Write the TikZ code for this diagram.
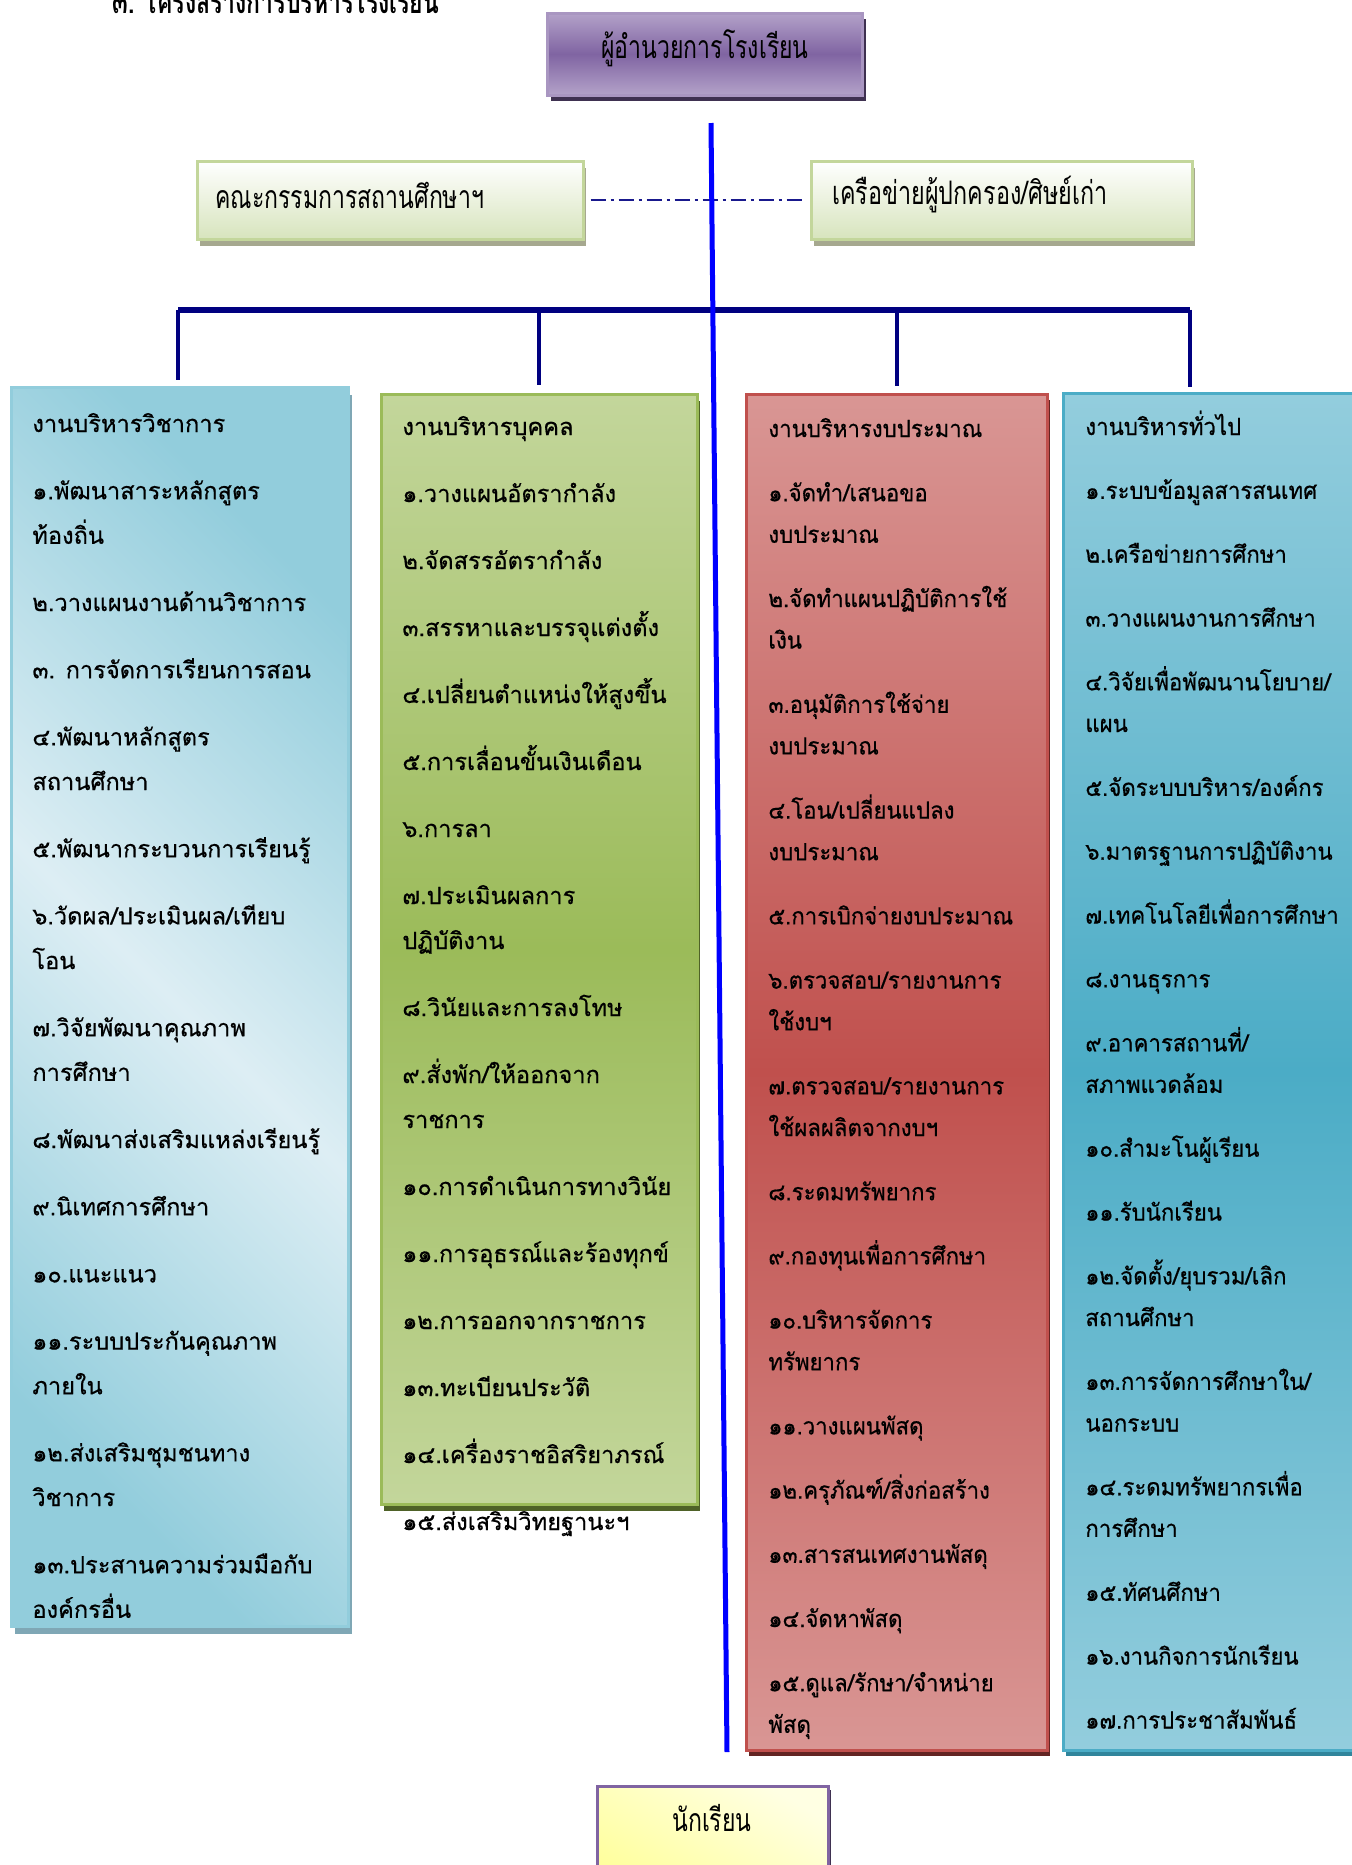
\documentclass[tikz,border=0pt]{standalone}
\usepackage{fontspec}
\usetikzlibrary{shadows}
\newfontfamily\thaifont[Script=Thai,FakeBold=0.6]{Loma}
\newfontfamily\thaitight[Script=Thai,FakeStretch=0.94,FakeBold=0.6]{Loma}
\newfontfamily\thainarrow[Script=Thai,FakeStretch=0.72]{Loma}

\definecolor{dirlight}{HTML}{B3A2C9}
\definecolor{dirmid}{HTML}{8064A2}
\definecolor{dirshadow}{HTML}{3F3151}
\definecolor{comborder}{HTML}{C3D69B}
\definecolor{combottom}{HTML}{D7E4BD}
\definecolor{comshadow}{HTML}{A6A88F}
\definecolor{acadlight}{HTML}{DDEEF4}
\definecolor{acaddark}{HTML}{92CDDC}
\definecolor{acadshadow}{HTML}{7FA7B5}
\definecolor{perslight}{HTML}{C3D69B}
\definecolor{persdark}{HTML}{9BBB59}
\definecolor{persshadow}{HTML}{4F6228}
\definecolor{budglight}{HTML}{D99694}
\definecolor{budgdark}{HTML}{C0504D}
\definecolor{budgshadow}{HTML}{632523}
\definecolor{genlight}{HTML}{93CDDD}
\definecolor{gendark}{HTML}{4BACC6}
\definecolor{genshadow}{HTML}{31859C}
\definecolor{navyline}{HTML}{000080}
\definecolor{studlight}{HTML}{FFFFE3}
\definecolor{studdark}{HTML}{FFFF99}

\tikzset{
  colbox/.style={rectangle, inner sep=0pt, line width=1.5pt},
  item/.style={anchor=base west, inner sep=0pt, text=black,
    font=\thaifont\fontsize{11.8pt}{14pt}\selectfont},
  itemtight/.style={item, font=\thaitight\fontsize{11.8pt}{14pt}\selectfont},
  drop/.style={draw=navyline, line width=2pt},
}

\begin{document}
\begin{tikzpicture}[x=0.5pt, y=-0.5pt]
\useasboundingbox (0,0) rectangle (1352,1865);

% title (cut by the page edge)
\node[anchor=base west, inner sep=0pt, font=\thainarrow\bfseries\fontsize{16pt}{20pt}\selectfont]
  (title) at (112,13) {๓. โครงสร้างการบริหารโรงเรียน};

% director
\node[colbox, minimum width=157.5pt, minimum height=41pt,
      top color=dirlight, bottom color=dirlight, middle color=dirmid, draw=dirlight!80!dirmid,
      general shadow={fill=dirshadow, shadow xshift=2pt, shadow yshift=-3pt}]
  (director) at (704.5,54) {};
\node[inner sep=0pt, font=\thainarrow\fontsize{16pt}{18pt}\selectfont]
  (directortext) at (705,48) {ผู้อำนวยการโรงเรียน};

% committee and network
\node[colbox, minimum width=193pt, minimum height=39pt,
      top color=white, bottom color=combottom, draw=comborder,
      general shadow={fill=comshadow, shadow xshift=1.5pt, shadow yshift=-3.5pt}]
  (comleft) at (390,200) {};
\node[colbox, minimum width=190.5pt, minimum height=39pt,
      top color=white, bottom color=combottom, draw=comborder,
      general shadow={fill=comshadow, shadow xshift=1.5pt, shadow yshift=-3.5pt}]
  (comright) at (1001.5,200) {};
\node[anchor=west, inner sep=0pt, font=\thainarrow\fontsize{16pt}{18pt}\selectfont]
  (comlefttext) at (215,195) {คณะกรรมการสถานศึกษาฯ};
\node[anchor=west, inner sep=0pt, font=\thainarrow\fontsize{16.2pt}{18pt}\selectfont]
  (comrighttext) at (832,195) {เครือข่ายผู้ปกครอง/ศิษย์เก่า};
\draw[navyline!90!white, line width=1pt, dash pattern=on 7.5pt off 2.5pt on 1.5pt off 2.5pt,
      shorten <=3pt, shorten >=2.5pt] (comleft.east) -- (comright.west);

% four branches
\node[colbox, minimum width=168.5pt, minimum height=619.5pt,
      top color=acaddark, bottom color=acaddark, middle color=acadlight, shading angle=-45,
      draw=acaddark, general shadow={fill=acadshadow, shadow xshift=2pt, shadow yshift=-4pt}]
  (acad) at (179.5,1006.5) {};
\node[colbox, minimum width=158pt, minimum height=555pt,
      top color=perslight, bottom color=perslight, middle color=persdark,
      draw=persdark, general shadow={fill=persshadow, shadow xshift=1.5pt, shadow yshift=-3.5pt}]
  (pers) at (539,949) {};
\node[colbox, minimum width=150.5pt, minimum height=678pt,
      top color=budglight, bottom color=budglight, middle color=budgdark,
      draw=budgdark, general shadow={fill=budgshadow, shadow xshift=1.5pt, shadow yshift=-3pt}]
  (budg) at (896.5,1072) {};
\node[colbox, minimum width=151pt, minimum height=678.5pt,
      top color=genlight, bottom color=genlight, middle color=gendark,
      draw=gendark, general shadow={fill=genshadow, shadow xshift=1.5pt, shadow yshift=-3pt}]
  (gen) at (1214,1071.5) {};

% student
\node[colbox, minimum width=115.5pt, minimum height=60pt,
      top color=studlight, bottom color=studdark, shading angle=-30, draw=dirmid,
      general shadow={fill=dirshadow, shadow xshift=1.5pt, shadow yshift=-2pt}]
  (student) at (712.5,1846) {};
\node[inner sep=0pt, font=\thainarrow\fontsize{16pt}{18pt}\selectfont]
  (studenttext) at (712,1818) {นักเรียน};

% bar and drops
\coordinate (barL) at (178,309.5);
\coordinate (barR) at (1190,309.5);
\draw[navyline, line width=3pt] (barL) -- (barR);
\draw[drop] (barL) -- ([yshift=3pt]barL |- acad.north);
\draw[drop] (pers.north |- barL) -- ([yshift=4pt]pers.north);
\draw[drop] (budg.north |- barL) -- ([yshift=3.5pt]budg.north);
\draw[drop] (barR) -- ([yshift=2.5pt]barR |- gen.north);

% main spine
\coordinate (spinetop) at (711,123);
\coordinate (spinebot) at (727,1752);
\draw[blue, line width=2.5pt] (spinetop) -- (spinebot);

% academic
\foreach \y/\t [count=\i] in {432/{งานบริหารวิชาการ}, 499.2/{๑.พัฒนาสาระหลักสูตร}, 543.8/{ท้องถิ่น},
  611/{๒.วางแผนงานด้านวิชาการ}, 678.2/{๓. การจัดการเรียนการสอน}, 745.4/{๔.พัฒนาหลักสูตร},
  790/{สถานศึกษา}, 857.2/{๕.พัฒนากระบวนการเรียนรู้}, 924.4/{๖.วัดผล/ประเมินผล/เทียบ},
  969/{โอน}, 1036.2/{๗.วิจัยพัฒนาคุณภาพ}, 1080.8/{การศึกษา}, 1148/{๘.พัฒนาส่งเสริมแหล่งเรียนรู้},
  1215.2/{๙.นิเทศการศึกษา}, 1282.4/{๑๐.แนะแนว}, 1349.6/{๑๑.ระบบประกันคุณภาพ}, 1394.2/{ภายใน},
  1461.4/{๑๒.ส่งเสริมชุมชนทาง}, 1506/{วิชาการ}, 1573.2/{๑๓.ประสานความร่วมมือกับ}, 1617.8/{องค์กรอื่น}}
  \node[item] (acad-\i) at (32,\y) {\t};

% personnel
\foreach \y/\t [count=\i] in {435/{งานบริหารบุคคล}, 502/{๑.วางแผนอัตรากำลัง}, 569/{๒.จัดสรรอัตรากำลัง},
  636/{๓.สรรหาและบรรจุแต่งตั้ง}, 703/{๔.เปลี่ยนตำแหน่งให้สูงขึ้น}, 770/{๕.การเลื่อนขั้นเงินเดือน},
  837/{๖.การลา}, 904/{๗.ประเมินผลการ}, 949/{ปฏิบัติงาน}, 1016/{๘.วินัยและการลงโทษ},
  1083/{๙.สั่งพัก/ให้ออกจาก}, 1128/{ราชการ}, 1195/{๑๐.การดำเนินการทางวินัย},
  1262/{๑๑.การอุธรณ์และร้องทุกข์}, 1329/{๑๒.การออกจากราชการ}, 1396/{๑๓.ทะเบียนประวัติ},
  1463/{๑๔.เครื่องราชอิสริยาภรณ์}, 1530/{๑๕.ส่งเสริมวิทยฐานะฯ}}
  \node[item] (pers-\i) at (402,\y) {\t};

% budget
\foreach \y/\t [count=\i] in {437/{งานบริหารงบประมาณ}, 501.2/{๑.จัดทำ/เสนอขอ}, 542.8/{งบประมาณ},
  607/{๒.จัดทำแผนปฏิบัติการใช้}, 648.6/{เงิน}, 712.8/{๓.อนุมัติการใช้จ่าย}, 754.4/{งบประมาณ},
  818.6/{๔.โอน/เปลี่ยนแปลง}, 860.2/{งบประมาณ}, 924.4/{๕.การเบิกจ่ายงบประมาณ},
  988.6/{๖.ตรวจสอบ/รายงานการ}, 1030.2/{ใช้งบฯ}, 1094.4/{๗.ตรวจสอบ/รายงานการ},
  1136/{ใช้ผลผลิตจากงบฯ}, 1200.2/{๘.ระดมทรัพยากร}, 1264.4/{๙.กองทุนเพื่อการศึกษา},
  1328.6/{๑๐.บริหารจัดการ}, 1370.2/{ทรัพยากร}, 1434.4/{๑๑.วางแผนพัสดุ},
  1498.6/{๑๒.ครุภัณฑ์/สิ่งก่อสร้าง}, 1562.8/{๑๓.สารสนเทศงานพัสดุ}, 1627/{๑๔.จัดหาพัสดุ},
  1691.2/{๑๕.ดูแล/รักษา/จำหน่าย}, 1732.8/{พัสดุ}}
  \node[itemtight] (budg-\i) at (768,\y) {\t};

% general
\foreach \y/\t [count=\i] in {435/{งานบริหารทั่วไป}, 498.9/{๑.ระบบข้อมูลสารสนเทศ}, 562.7/{๒.เครือข่ายการศึกษา},
  626.6/{๓.วางแผนงานการศึกษา}, 690.4/{๔.วิจัยเพื่อพัฒนานโยบาย/}, 732/{แผน},
  795.9/{๕.จัดระบบบริหาร/องค์กร}, 859.7/{๖.มาตรฐานการปฏิบัติงาน}, 923.6/{๗.เทคโนโลยีเพื่อการศึกษา},
  987.4/{๘.งานธุรการ}, 1051.3/{๙.อาคารสถานที่/}, 1092.9/{สภาพแวดล้อม}, 1156.7/{๑๐.สำมะโนผู้เรียน},
  1220.6/{๑๑.รับนักเรียน}, 1284.4/{๑๒.จัดตั้ง/ยุบรวม/เลิก}, 1326/{สถานศึกษา},
  1389.9/{๑๓.การจัดการศึกษาใน/}, 1431.5/{นอกระบบ}, 1495.3/{๑๔.ระดมทรัพยากรเพื่อ},
  1536.9/{การศึกษา}, 1600.8/{๑๕.ทัศนศึกษา}, 1664.6/{๑๖.งานกิจการนักเรียน}, 1728.5/{๑๗.การประชาสัมพันธ์}}
  \node[itemtight] (gen-\i) at (1085,\y) {\t};
\end{tikzpicture}
\end{document}
